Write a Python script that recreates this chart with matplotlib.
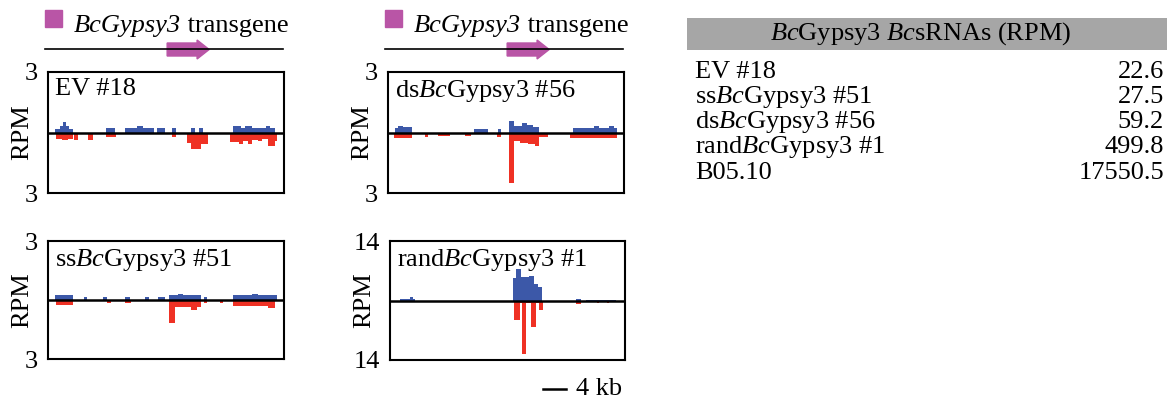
import matplotlib
matplotlib.use('Agg')
import matplotlib.pyplot as plt
from matplotlib.patches import Rectangle, Polygon
from matplotlib.lines import Line2D
import matplotlib.transforms as mtransforms

# ---------------- data ----------------
# coverage segments: (start_kb, end_kb, RPM)
EV18_SENSE = [(1.2, 2.0, 0.17), (2.0, 2.6, 0.3), (2.6, 3.2, 0.5), (3.2, 3.7, 0.3), (3.7, 4.3, 0.17),
              (10.0, 11.6, 0.2), (13.4, 15.5, 0.2), (15.5, 16.5, 0.33), (16.5, 18.5, 0.22),
              (19.0, 20.3, 0.2), (21.5, 22.3, 0.2), (24.8, 25.6, 0.2), (26.3, 26.9, 0.2),
              (32.1, 33.5, 0.3), (33.5, 34.3, 0.2), (34.3, 35.5, 0.33), (35.5, 37.8, 0.22),
              (37.8, 38.6, 0.33), (38.6, 39.4, 0.2)]
EV18_ANTISENSE = [(1.4, 2.4, 0.3), (2.4, 3.5, 0.38), (3.5, 4.3, 0.3), (4.6, 5.2, 0.35),
                  (7.0, 7.8, 0.38), (10.1, 11.9, 0.22), (21.5, 22.3, 0.22),
                  (24.2, 24.8, 0.5), (24.8, 26.6, 0.8), (26.6, 27.8, 0.55),
                  (31.6, 33.2, 0.47), (33.2, 33.8, 0.55), (33.8, 34.7, 0.4), (34.7, 35.4, 0.55),
                  (35.4, 36.5, 0.38), (36.5, 37.2, 0.4), (37.2, 38.2, 0.3), (38.2, 39.4, 0.67),
                  (39.4, 39.7, 0.4)]

DS56_SENSE = [(1.3, 1.8, 0.2), (1.8, 2.6, 0.33), (2.6, 4.2, 0.25), (15.0, 17.4, 0.17),
              (19.1, 19.7, 0.17), (21.1, 21.9, 0.58), (21.9, 23.2, 0.3), (23.2, 24.2, 0.45),
              (24.2, 25.2, 0.35), (25.2, 26.3, 0.25), (32.1, 35.8, 0.22), (35.8, 36.6, 0.3),
              (36.6, 38.4, 0.22), (38.4, 39.2, 0.33), (39.2, 39.7, 0.2)]
DS56_ANTISENSE = [(1.0, 4.2, 0.25), (6.4, 6.9, 0.22), (8.6, 10.7, 0.17), (13.3, 14.5, 0.17),
                  (19.0, 19.7, 0.22), (21.1, 21.9, 2.5), (21.9, 22.9, 0.42), (22.9, 24.3, 0.5),
                  (24.3, 25.5, 0.58), (25.5, 26.3, 0.67), (26.3, 27.8, 0.22), (31.6, 39.7, 0.25)]

SS51_SENSE = [(1.2, 4.3, 0.25), (6.3, 6.8, 0.13), (9.6, 10.3, 0.13), (13.4, 14.2, 0.13),
              (16.8, 17.5, 0.13), (19.1, 20.3, 0.13), (21.1, 22.5, 0.27), (22.5, 23.5, 0.33),
              (23.5, 26.6, 0.25), (27.1, 27.7, 0.13), (32.1, 35.5, 0.25), (35.5, 36.5, 0.33),
              (36.5, 39.7, 0.25)]
SS51_ANTISENSE = [(1.4, 4.3, 0.23), (10.3, 11.0, 0.13), (13.4, 14.5, 0.13), (21.1, 22.0, 1.18),
                  (22.0, 24.9, 0.38), (24.9, 25.8, 0.52), (25.8, 26.6, 0.35), (27.1, 27.7, 0.13),
                  (29.8, 30.4, 0.13), (32.1, 38.2, 0.3), (38.2, 39.4, 0.4)]

RAND1_SENSE = [(1.7, 3.5, 0.4), (3.5, 4.0, 0.8), (4.0, 4.3, 0.4), (21.4, 22.0, 5.2),
               (22.0, 22.9, 7.4), (22.9, 24.3, 5.6), (24.3, 25.2, 5.8), (25.2, 25.9, 3.8),
               (25.9, 26.6, 3.1), (32.4, 33.3, 0.3), (34.2, 39.4, 0.2)]
RAND1_ANTISENSE = [(1.7, 4.3, 0.4), (21.7, 22.6, 4.7), (22.6, 23.0, 0.7), (23.0, 23.7, 12.7),
                   (23.7, 24.6, 0.7), (24.6, 25.5, 6.3), (25.5, 26.0, 0.7), (26.0, 26.7, 2.3),
                   (29.4, 29.6, 0.3), (32.4, 33.3, 0.9), (33.3, 39.4, 0.4), (36.1, 36.5, 0.7),
                   (37.8, 38.2, 0.7)]

PANEL_TITLES = ['EV #18', 'ds$\\mathit{Bc}$Gypsy3 #56', 'ss$\\mathit{Bc}$Gypsy3 #51',
                'rand$\\mathit{Bc}$Gypsy3 #1']
PANEL_YMAX = [3, 3, 3, 14]
LOCUS_KB = 41
TRANSGENE_KB = (20.7, 28.0)
TRANSGENE_NAME = 'BcGypsy3'
SCALE_KB = 4

TABLE_TITLE = '$\\mathit{Bc}$Gypsy3 $\\mathit{Bc}$sRNAs (RPM)'
TABLE_SAMPLES = ['EV #18', 'ss$\\mathit{Bc}$Gypsy3 #51', 'ds$\\mathit{Bc}$Gypsy3 #56',
                 'rand$\\mathit{Bc}$Gypsy3 #1', 'B05.10']
TABLE_RPM = ['22.6', '27.5', '59.2', '499.8', '17550.5']

# ---------------- style ----------------
plt.rcParams['font.family'] = ['Liberation Serif', 'DejaVu Serif']
plt.rcParams['mathtext.fontset'] = 'custom'
plt.rcParams['mathtext.rm'] = 'Liberation Serif'
plt.rcParams['mathtext.it'] = 'Liberation Serif:italic'

W, H = 1167, 403
FS = 19
BLUE = '#3C58A8'
RED = '#EF3124'
MAGENTA = '#B955A6'

fig = plt.figure(figsize=(W / 100, H / 100), dpi=100)

def fx(x):
    return x / W

def fy(y):
    return 1 - y / H

def add_axes_px(l, t, r, b):
    return fig.add_axes([fx(l), fy(b), (r - l) / W, (b - t) / H])

boxes = [(48, 72, 284, 193), (388, 72, 624, 193), (48, 241, 284, 359), (390, 241, 625, 360)]
data = [(EV18_SENSE, EV18_ANTISENSE), (DS56_SENSE, DS56_ANTISENSE),
        (SS51_SENSE, SS51_ANTISENSE), (RAND1_SENSE, RAND1_ANTISENSE)]

axes = []
for box, (sense, anti), title, ymax in zip(boxes, data, PANEL_TITLES, PANEL_YMAX):
    ax = add_axes_px(*box)
    axes.append(ax)
    ax.bar([s for s, e, v in sense], [v for s, e, v in sense],
           width=[e - s for s, e, v in sense], align='edge', color=BLUE, linewidth=0)
    ax.bar([s for s, e, v in anti], [-v for s, e, v in anti],
           width=[e - s for s, e, v in anti], align='edge', color=RED, linewidth=0)
    ax.axhline(0, color='black', lw=1.8, zorder=5)
    ax.set_xlim(0, LOCUS_KB)
    ax.set_ylim(-ymax, ymax)
    ax.set_xticks([])
    ax.set_yticks([-ymax, ymax])
    ax.set_yticklabels([str(ymax), str(ymax)])
    ax.tick_params(axis='y', length=0, pad=7, labelsize=FS)
    for sp in ax.spines.values():
        sp.set_linewidth(1.5)
    ax.text(0.03, 0.95, title, transform=ax.transAxes, ha='left', va='top', fontsize=FS)
    ax.text(-0.11, 0.5, 'RPM', transform=ax.transAxes, rotation=90, ha='center',
            va='center', fontsize=FS)

# transgene headers
for off, ax in zip([0, 340], axes[:2]):
    fig.add_artist(Rectangle((fx(45 + off), fy(27)), 17 / W, 17 / H, color=MAGENTA,
                             transform=fig.transFigure))
    t1 = fig.text(fx(74 + off), fy(32), TRANSGENE_NAME, fontsize=FS, fontstyle='italic',
                  ha='left', va='baseline')
    fig.add_artist(matplotlib.text.Annotation(' transgene', xy=(1, 0), xycoords=t1,
                                              fontsize=FS, ha='left', va='bottom'))
    trans = mtransforms.blended_transform_factory(ax.transData, fig.transFigure)
    fig.add_artist(Line2D([fx(45 + off), fx(283 + off)], [fy(49), fy(49)], color='black',
                          lw=1.2, transform=fig.transFigure))
    s, e = TRANSGENE_KB
    hx = e - 2.1
    poly = Polygon([(s, fy(43)), (hx, fy(43)), (hx, fy(40)), (e, fy(49.5)), (hx, fy(59)),
                    (hx, fy(56)), (s, fy(56))], closed=True, color=MAGENTA, transform=trans,
                   clip_on=False)
    fig.add_artist(poly)

# scale bar
ax4 = axes[3]
tb = mtransforms.blended_transform_factory(ax4.transData, ax4.transAxes)
ax4.plot([26.7, 26.7 + SCALE_KB], [-0.244, -0.244], color='black', lw=1.8,
         transform=tb, clip_on=False)
ax4.text(26.7 + SCALE_KB + 1.7, -0.244, f'{SCALE_KB} kb', transform=tb, ha='left',
         va='center', fontsize=FS)

# table
fig.add_artist(Rectangle((fx(687), fy(50)), (1167 - 687) / W, 32 / H, color='#A6A6A6',
                         transform=fig.transFigure, lw=0))
fig.text(fx(921), fy(34), TABLE_TITLE, ha='center', va='center', fontsize=FS)
row_y = [72, 97, 122, 147, 173]
for y, lab, val in zip(row_y, TABLE_SAMPLES, TABLE_RPM):
    fig.text(fx(695), fy(y), lab, ha='left', va='center', fontsize=FS)
    fig.text(fx(1164), fy(y), val, ha='right', va='center', fontsize=FS)

fig.savefig('out.png', dpi=100)
